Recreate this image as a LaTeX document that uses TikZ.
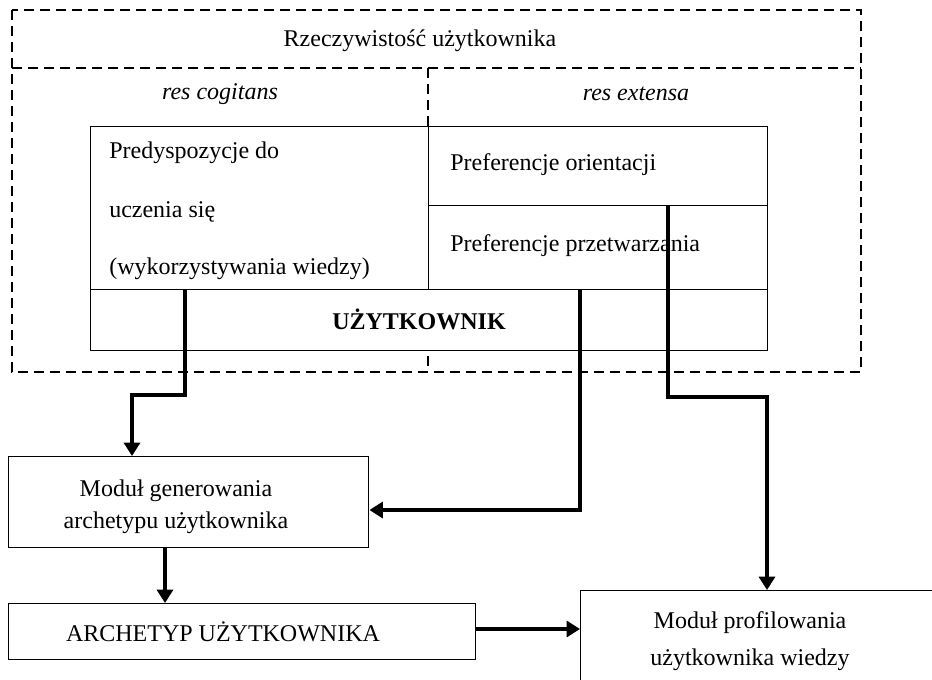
\documentclass[tikz,border=0pt]{standalone}
\usepackage{fontspec}
\setmainfont{Liberation Serif}
\usetikzlibrary{arrows.meta}

\begin{document}
\begin{tikzpicture}[x=0.75pt,y=-0.75pt,
  every node/.style={font=\fontsize{18}{22}\selectfont, inner sep=0pt},
  dashframe/.style={draw, line width=2pt, dash pattern=on 7.5pt off 4.5pt},
  cell/.style={draw, fill=white, line width=1.1pt, rectangle, anchor=north west},
  flow/.style={line width=2.3pt, -{Triangle[length=10pt,width=12pt]}},
  txt/.style={anchor=west}
]
\useasboundingbox (0,0) rectangle (932,679);
\clip (0,0) rectangle (932,679);

% dashed frame of the user's reality
\draw[dashframe] (12,10) rectangle (861,372);
\draw[dashframe] (12,68) -- (861,68);
\draw[dashframe] (428,68) -- (428,372);
\node (real) at (420,41) {Rzeczywistość użytkownika};
\node (cog) at (220,94) {\itshape res cogitans};
\node (ext) at (636,94) {\itshape res extensa};

% user box with its parts
\node[cell, minimum width=338*0.75pt, minimum height=163*0.75pt] (pred) at (90,126) {};
\node[cell, minimum width=339*0.75pt, minimum height=79*0.75pt] (orient) at (428,126) {};
\node[cell, minimum width=339*0.75pt, minimum height=84*0.75pt] (przetw) at (428,205) {};
\node[cell, minimum width=677*0.75pt, minimum height=61*0.75pt] (user) at (90,289) {};

\node[txt] (p1) at (109,153) {Predyspozycje do};
\node[txt] (p2) at (109,212) {uczenia się};
\node[txt] (p3) at (109,269) {(wykorzystywania wiedzy)};
\node[txt] (o1) at (450,165) {Preferencje orientacji};
\node[txt] (o2) at (450,246) {Preferencje przetwarzania};
\node (u1) at (419,319) {\bfseries UŻYTKOWNIK};

% modules
\node[cell, minimum width=360*0.75pt, minimum height=91*0.75pt] (gen) at (8,456) {};
\node[align=center, font=\fontsize{18}{24}\selectfont] (gentxt) at (176,507) {Moduł generowania\\archetypu użytkownika};
\node[cell, minimum width=467*0.75pt, minimum height=56*0.75pt] (arch) at (8,603) {};
\node (archtxt) at (223,632) {ARCHETYP UŻYTKOWNIKA};
\node[cell, minimum width=400*0.75pt, minimum height=150*0.75pt] (prof) at (580,590) {};
\node[align=center, font=\fontsize{18}{27.75}\selectfont] (proftxt) at (750,641) {Moduł profilowania\\użytkownika wiedzy};

% bend points of the connectors
\coordinate (s1) at (185,289);
\coordinate (k1) at (132,395);
\coordinate (s2) at (580,289);
\coordinate (k2) at (580,510);
\coordinate (s3) at (668,205);
\coordinate (k3) at (767,397);
\coordinate (k4) at (165,0);

\draw[flow] (s1) |- (k1) -- (k1 |- gen.north);
\draw[flow] (s2) -- (k2) -- (k2 -| gen.east);
\draw[flow] (s3) |- (k3) -- (k3 |- prof.north);
\draw[flow] (k4 |- gen.south) -- (k4 |- arch.north);
\draw[flow] (arch.east |- 0,629) -- (prof.west |- 0,629);
\end{tikzpicture}
\end{document}
